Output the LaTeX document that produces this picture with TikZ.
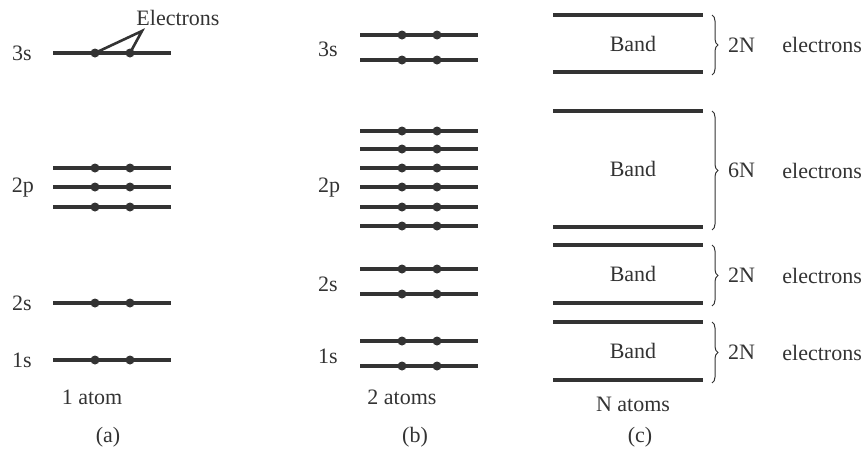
\documentclass[tikz,border=0pt]{standalone}
\usepackage{fontspec}
\setmainfont{Liberation Serif}
\usetikzlibrary{decorations.pathreplacing}
\definecolor{ink}{RGB}{51,51,51}

\begin{document}
\begin{tikzpicture}[x=1pt,y=-1pt,
  level/.style={draw=ink, line width=3.2pt},
  electron/.style={circle, fill=ink, inner sep=0pt, minimum size=9pt},
  txt/.style={text=ink, inner sep=0pt, font=\fontsize{22}{26}\selectfont},
  pointer/.style={draw=ink, line width=2.6pt},
  bracebar/.style={draw=ink, line width=1pt,
    decorate, decoration={brace, amplitude=6pt}}]
\useasboundingbox (0,0) rectangle (864,453);

% ---------- (a) one atom ----------
\foreach \y/\n in {53/a3s, 168/a2p1, 187/a2p2, 207/a2p3, 303/a2s, 360/a1s} {
  \draw[level] (53,\y) -- (171,\y);
  \node[electron] (\n L) at (95,\y) {};
  \node[electron] (\n R) at (130,\y) {};
}
\node[txt] (la3s) at (22,53) {3s};
\node[txt] (la2p) at (23,188) {2p};
\node[txt] (la2s) at (22,303) {2s};
\node[txt] (la1s) at (22,360) {1s};
\node[txt] (elabel) at (178,18) {Electrons};
\coordinate (apex) at (142,31);
\draw[pointer] (a3sL.center) -- (apex) -- (a3sR.center);
\node[txt] (atoma) at (92,397) {1 atom};
\node[txt] (capa) at (108,437) {(a)};

% ---------- (b) two atoms ----------
\foreach \y/\n in {35/b3s1, 60/b3s2, 131/b2p1, 149/b2p2, 168/b2p3,
                   187/b2p4, 207/b2p5, 226/b2p6, 269/b2s1, 294/b2s2,
                   341/b1s1, 366/b1s2} {
  \draw[level] (360,\y) -- (478,\y);
  \node[electron] (\n L) at (402,\y) {};
  \node[electron] (\n R) at (437,\y) {};
}
\node[txt] (lb3s) at (328,49) {3s};
\node[txt] (lb2p) at (329,188) {2p};
\node[txt] (lb2s) at (328,284) {2s};
\node[txt] (lb1s) at (328,356) {1s};
\node[txt] (atomb) at (402,397) {2 atoms};
\node[txt] (capb) at (415,437) {(b)};

% ---------- (c) N atoms ----------
\foreach \t/\b/\n/\k in {15/72/c3s/2N, 111/227/c2p/6N,
                          245/303/c2s/2N, 322/380/c1s/2N} {
  \draw[level] (553,\t) -- (703,\t);
  \draw[level] (553,\b) -- (703,\b);
  \node[txt] (\n band) at (633,{(\t+\b)/2}) {Band};
  \draw[bracebar] (712,\t) -- (712,{\b+3});
  \node[txt, anchor=west] (\n num) at (728,{(\t+\b)/2+1.5}) {\k};
  \node[txt, anchor=east] (\n el) at (862,{(\t+\b)/2+1.5}) {electrons};
}
\node[txt] (atomc) at (633,404) {N atoms};
\node[txt] (capc) at (640,437) {(c)};
\end{tikzpicture}
\end{document}
